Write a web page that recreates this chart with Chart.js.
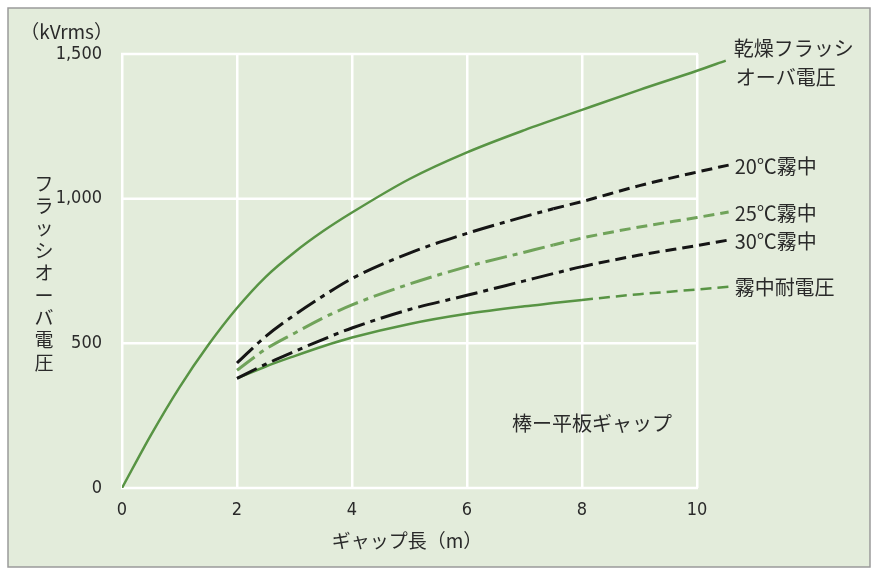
<!DOCTYPE html>
<html>
<head>
<meta charset="utf-8">
<script src="https://cdn.jsdelivr.net/npm/chart.js@4/dist/chart.umd.min.js"></script>
<style>
  html, body { margin: 0; padding: 0; background: #ffffff; }
  #wrap { width: 876px; height: 571px; }
</style>
</head>
<body>
<div id="wrap"><canvas id="c" width="876" height="571"></canvas></div>
<script>
// ---- data ----
const xTicks = [0, 2, 4, 6, 8, 10];
const yTicks = [0, 500, 1000, 1500];

const dryX = [0, 0.5, 1, 1.5, 2, 2.5, 3, 3.5, 4, 5, 6, 7, 8, 9, 10, 10.5];
const dryY = [0, 182, 348, 494, 622, 730, 815, 888, 952, 1068, 1160, 1237, 1307, 1376, 1442, 1477];

const fogX = [2, 2.5, 3, 3.5, 4, 5, 6, 7, 7.5, 8, 9, 10, 10.55];
const fog20Y = [432, 524, 598, 664, 724, 812, 880, 938, 965, 990, 1045, 1092, 1116];
const fog25Y = [407, 480, 535, 588, 633, 705, 765, 815, 840, 864, 902, 935, 954];
const fog30Y = [379, 428, 472, 514, 553, 617, 666, 716, 741, 765, 805, 838, 857];
const withstandY = [379, 420, 456, 490, 520, 567, 602, 628, 639, 650, 670, 686, 696];

// x where each curve turns from measured (solid / dash-dot) to extrapolated (dashed)
const extrapFrom = { fog20: 7.5, fog25: 7.5, fog30: 8, withstand: 8 };

const seriesLabels = {
  dry: ['乾燥フラッシ', 'オーバ電圧'],
  fog20: ['20℃霧中'],
  fog25: ['25℃霧中'],
  fog30: ['30℃霧中'],
  withstand: ['霧中耐電圧']
};
const yAxisTitle = 'フラッシオーバ電圧';
const yUnit = '（kVrms）';
const xAxisTitle = 'ギャップ長（m）';
const noteText = '棒ー平板ギャップ';

// ---- styles ----
const GREEN = 'rgb(88,148,68)';
const LGREEN = 'rgb(112,163,90)';
const BLACK = '#151515';
const BG = 'rgb(227,236,219)';
const TEXT = '#2a2a2a';
const CJK = '"Noto Sans CJK JP", "Noto Sans", sans-serif';
const NUM = '"Liberation Sans Narrow", "DejaVu Sans Condensed", "Liberation Sans", sans-serif';

const DASHDOT = [22, 6, 5, 6];
const DASHED = [11, 6];
const X_MAX = 10.6;

function pts(xs, ys) { return xs.map((x, i) => ({ x: x, y: ys[i] })); }

function ds(key, xs, ys, color, width, measuredDash) {
  const thr = extrapFrom[key];
  return {
    key: key,
    data: pts(xs, ys),
    borderColor: color,
    borderWidth: width,
    pointRadius: 0,
    cubicInterpolationMode: 'monotone',
    fill: false,
    segment: thr === undefined ? undefined : {
      borderDash: ctx => ctx.p0.parsed.x >= thr ? DASHED : measuredDash
    }
  };
}

const datasets = [
  ds('dry', dryX, dryY, GREEN, 2.5, []),
  ds('fog20', fogX, fog20Y, BLACK, 3, DASHDOT),
  ds('fog25', fogX, fog25Y, LGREEN, 3, DASHDOT),
  ds('fog30', fogX, fog30Y, BLACK, 3, DASHDOT),
  ds('withstand', fogX, withstandY, GREEN, 2.5, [])
];

const decor = {
  id: 'decor',
  beforeDraw(chart) {
    const c = chart.ctx;
    c.save();
    c.fillStyle = '#ffffff';
    c.fillRect(0, 0, chart.width, chart.height);
    c.fillStyle = BG;
    c.fillRect(8, 8, 862, 559);
    c.strokeStyle = '#9a9a9a';
    c.lineWidth = 1.5;
    c.strokeRect(8, 8, 862, 559);
    c.restore();
  },
  beforeDatasetsDraw(chart) {
    // horizontal grid lines, only across the ticked x-range
    const c = chart.ctx;
    const xs = chart.scales.x, ys = chart.scales.y;
    const x0 = xs.getPixelForValue(xTicks[0]);
    const x1 = xs.getPixelForValue(xTicks[xTicks.length - 1]);
    c.save();
    c.strokeStyle = '#ffffff';
    c.lineWidth = 2.5;
    yTicks.forEach(v => {
      const py = ys.getPixelForValue(v);
      c.beginPath();
      c.moveTo(x0 - 1, py);
      c.lineTo(x1 + 1, py);
      c.stroke();
    });
    c.restore();
  },
  afterDatasetsDraw(chart) {
    const c = chart.ctx;
    const xs = chart.scales.x, ys = chart.scales.y, ca = chart.chartArea;
    c.save();
    c.fillStyle = TEXT;
    c.font = '20px ' + CJK;
    c.textBaseline = 'middle';
    c.textAlign = 'left';
    // end-of-curve labels
    chart.data.datasets.forEach(d => {
      const last = d.data[d.data.length - 1];
      const px = xs.getPixelForValue(last.x);
      const py = ys.getPixelForValue(last.y);
      const lines = seriesLabels[d.key];
      if (lines.length === 2) {
        c.fillText(lines[0], px + 8, py - 12);
        c.fillText(lines[1], px + 10, py + 17);
      } else {
        c.fillText(lines[0], px + 6, py + 1);
      }
    });
    // vertical y-axis title
    c.font = '19px ' + CJK;
    c.textAlign = 'center';
    const chars = Array.from(yAxisTitle);
    const step = 22.4;
    const yStart = (ca.top + ca.bottom) / 2 - (chars.length - 1) * step / 2 + 2;
    chars.forEach((ch, i) => c.fillText(ch, 44, yStart + i * step));
    // unit
    c.textAlign = 'right';
    c.fillText(yUnit, 113, 32);
    // x-axis title
    c.textAlign = 'center';
    c.fillText(xAxisTitle, 407, 541);
    // annotation
    c.font = '20px ' + CJK;
    c.textAlign = 'left';
    c.fillText(noteText, 512, 423);
    c.restore();
  }
};

new Chart(document.getElementById('c'), {
  type: 'line',
  data: { datasets: datasets },
  options: {
    responsive: false,
    animation: false,
    layout: { padding: { top: 54, right: 876 - 122 - 57.5 * X_MAX, left: 0, bottom: 0 } },
    plugins: { legend: { display: false }, tooltip: { enabled: false } },
    scales: {
      x: {
        type: 'linear',
        min: 0, max: X_MAX,
        afterBuildTicks: s => { s.ticks = xTicks.map(v => ({ value: v })); },
        afterFit: s => { s.height = 83; },
        grid: { color: '#ffffff', lineWidth: 2.5, drawTicks: false },
        border: { display: false },
        ticks: { padding: 12, color: TEXT, font: { family: NUM, size: 18 }, maxRotation: 0 }
      },
      y: {
        type: 'linear',
        min: 0, max: 1500,
        afterBuildTicks: s => { s.ticks = yTicks.map(v => ({ value: v })); },
        afterFit: s => { s.width = 122; },
        grid: { display: false },
        border: { display: false },
        ticks: {
          padding: 12, color: TEXT, font: { family: NUM, size: 18 },
          callback: v => v.toLocaleString('en-US')
        }
      }
    }
  },
  plugins: [decor]
});
</script>
</body>
</html>
